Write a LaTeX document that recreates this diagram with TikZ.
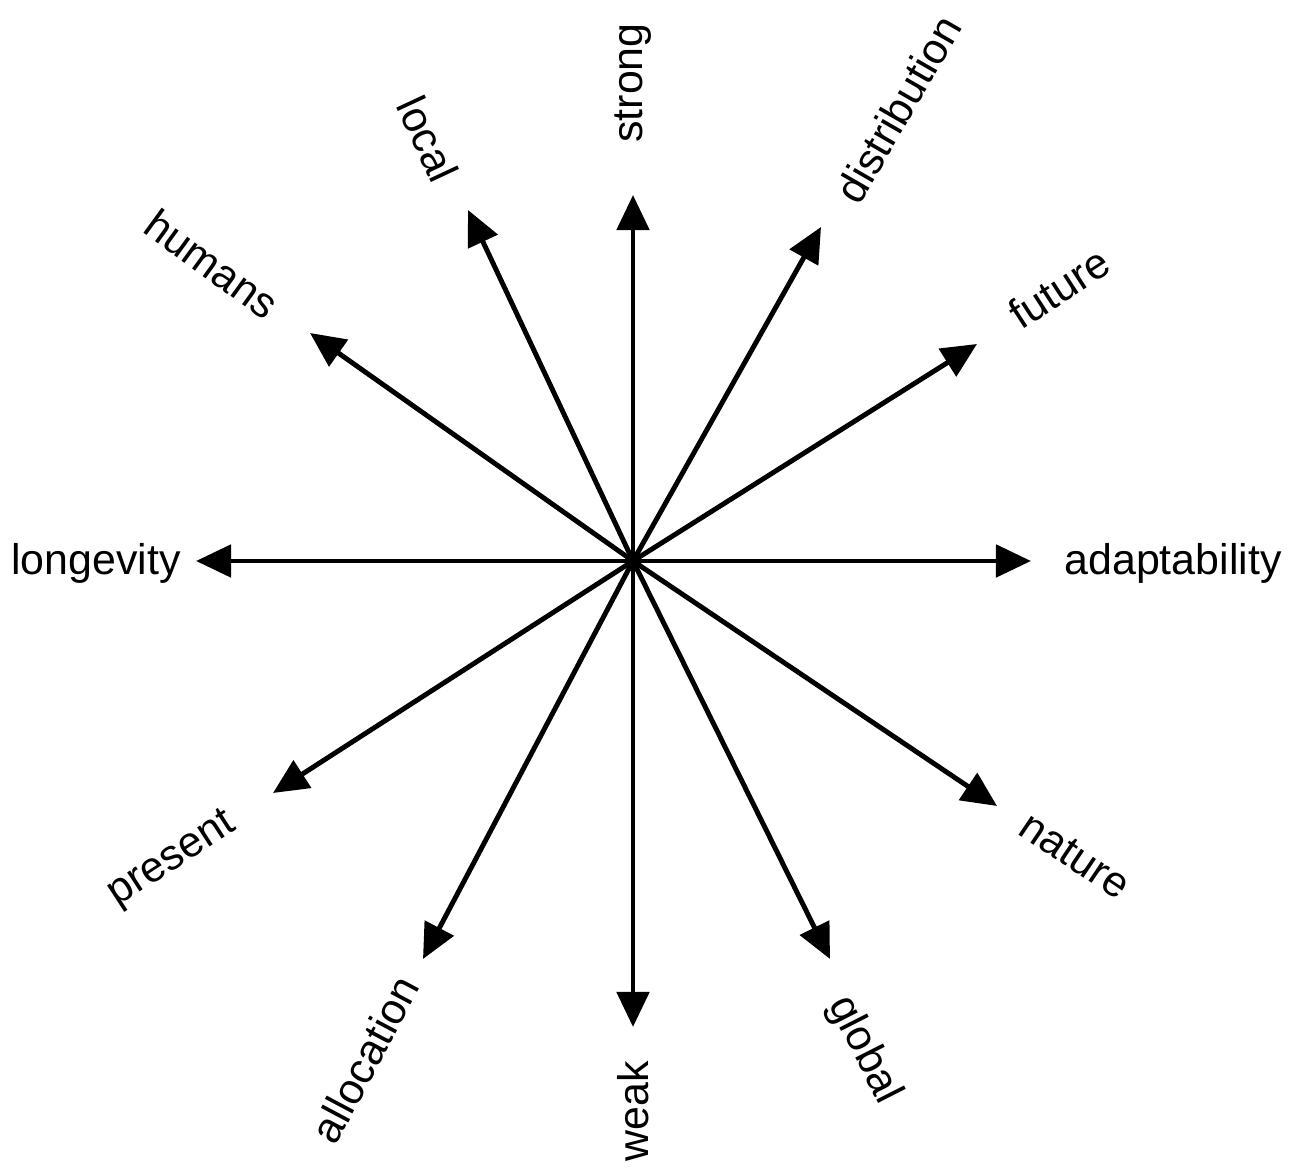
\documentclass[tikz,border=0pt]{standalone}
\usepackage{fontspec}
\setmainfont{Liberation Sans}
\usetikzlibrary{arrows.meta}

\begin{document}
\begin{tikzpicture}[x=0.01cm, y=-0.01cm,
        spoke/.style={line width=1.4pt, -{Triangle[length=0.35cm, width=0.32cm]}},
        word/.style={inner sep=0pt, font=\fontsize{12.2}{14}\selectfont}]

        \useasboundingbox (0,0) rectangle (1291,1168);

        \coordinate (o) at (633,561);
        \coordinate (strongtip) at (633,195);
        \coordinate (weaktip) at (633,1027);
        \coordinate (longtip) at (196,561);
        \coordinate (adapttip) at (1031,561);
        \coordinate (localtip) at (468,210);
        \coordinate (disttip) at (821,227);
        \coordinate (humtip) at (310,333);
        \coordinate (futtip) at (977,344);
        \coordinate (prestip) at (273,793);
        \coordinate (nattip) at (997,806);
        \coordinate (alloctip) at (423,959);
        \coordinate (globtip) at (830,959);

        \node[word, rotate=90] (strong) at (633,83) {strong};
        \node[word, rotate=90] (weak) at (633,1111) {weak};
        \node[word] (longevity) at (96,563) {longevity};
        \node[word] (adaptability) at (1173,563) {adaptability};
        \node[word, rotate=-65] (local) at (428,139) {local};
        \node[word, rotate=60] (distribution) at (898,109) {distribution};
        \node[word, rotate=-36] (humans) at (212,264) {humans};
        \node[word, rotate=33] (future) at (1059,288) {future};
        \node[word, rotate=33] (present) at (172,860) {present};
        \node[word, rotate=-34] (nature) at (1075,856) {nature};
        \node[word, rotate=62] (allocation) at (365,1059) {allocation};
        \node[word, rotate=-63] (global) at (864,1050) {global};

        \draw[spoke] (o) -- (strongtip);
        \draw[spoke] (o) -- (weaktip);
        \draw[spoke] (o) -- (longtip);
        \draw[spoke] (o) -- (adapttip);
        \draw[spoke] (o) -- (localtip);
        \draw[spoke] (o) -- (disttip);
        \draw[spoke] (o) -- (humtip);
        \draw[spoke] (o) -- (futtip);
        \draw[spoke] (o) -- (prestip);
        \draw[spoke] (o) -- (nattip);
        \draw[spoke] (o) -- (alloctip);
        \draw[spoke] (o) -- (globtip);

    \end{tikzpicture}
\end{document}
